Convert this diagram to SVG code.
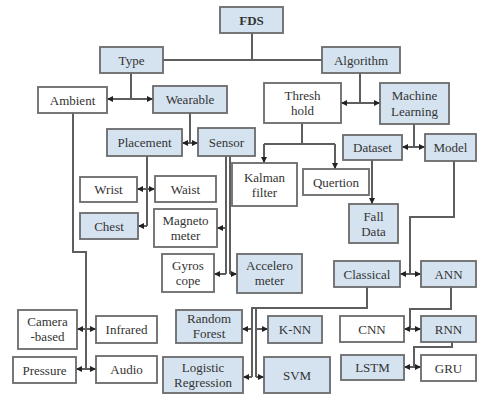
<svg xmlns="http://www.w3.org/2000/svg" width="477" height="395" viewBox="0 0 477 395">
<style>
.b rect{stroke:#6a6a6a;stroke-width:1.8}
.bl rect{fill:#d5e3f0}
.wh rect{fill:#ffffff}
text{font-family:"Liberation Serif","Times New Roman",serif;font-size:13px;fill:#333;text-anchor:middle}
.c path{fill:none;stroke:#5e5e5e;stroke-width:2}
.c .a{marker-end:url(#ah)}
</style>
<defs>
<marker id="ah" viewBox="0 0 6 6" refX="6" refY="3" markerWidth="6" markerHeight="6" markerUnits="userSpaceOnUse" orient="auto"><path d="M0,0 L6,3 L0,6z" fill="#222"/></marker>
</defs>
<rect width="477" height="395" fill="#ffffff"/>
<g class="c" id="connectors">
<path d="M252,33 V60 M163,60 H322"/>
<path d="M131,73 V99"/><path class="a" d="M131,99 H107"/><path class="a" d="M131,99 H153"/>
<path d="M360,73 V103"/><path class="a" d="M360,103 H341"/><path class="a" d="M360,103 H380"/>
<path d="M190,113 V143"/><path class="a" d="M190,143 H182"/><path class="a" d="M190,143 H198"/>
<path d="M414,124 V147"/><path class="a" d="M414,147 H402"/><path class="a" d="M414,147 H425"/>
<path d="M302,123 V144 M264,144 H335"/><path class="a" d="M264,144 V163"/><path class="a" d="M335,144 V169"/>
<path class="a" d="M372,160 V204"/>
<path d="M147,156 V226"/><path class="a" d="M147,189 H137"/><path class="a" d="M147,189 H155"/><path class="a" d="M147,226 H138"/>
<path d="M226,156 V274"/><path class="a" d="M226,228 H217"/><path class="a" d="M226,274 H214"/>
<path d="M230,156 V274"/><path class="a" d="M230,274 H237"/>
<path d="M454,161 V217 H410 V274"/><path class="a" d="M410,274 H400"/><path class="a" d="M410,274 H421"/>
<path d="M367,287 V308 H252 V377 M256,308 V377"/><path class="a" d="M252,329 H242"/><path class="a" d="M256,329 H268"/><path class="a" d="M252,377 H243"/><path class="a" d="M256,377 H264"/>
<path d="M451,287 V309 H410 V329"/><path class="a" d="M410,329 H404"/><path class="a" d="M410,329 H421"/>
<path d="M452,342 V347 H414 V367"/><path class="a" d="M414,367 H404"/><path class="a" d="M414,367 H421"/>
<path d="M73,113 V252 H86 V369"/><path class="a" d="M86,329 H77"/><path class="a" d="M86,329 H96"/><path class="a" d="M86,369 H76"/><path class="a" d="M86,369 H96"/>
</g>
<g id="fds" class="b bl"><rect x="220" y="7" width="63" height="26"/><text x="251.5" y="24.5" font-weight="bold">FDS</text></g>
<g id="type" class="b bl"><rect x="100" y="47" width="63" height="26"/><text x="131.5" y="64.5">Type</text></g>
<g id="algorithm" class="b bl"><rect x="322" y="47" width="78" height="26"/><text x="361" y="64.5">Algorithm</text></g>
<g id="ambient" class="b wh"><rect x="38" y="87" width="69" height="26"/><text x="72.5" y="104.5">Ambient</text></g>
<g id="wearable" class="b bl"><rect x="153" y="86" width="74" height="27"/><text x="190" y="104">Wearable</text></g>
<g id="threshhold" class="b wh"><rect x="264" y="83" width="77" height="40"/><text x="302.5" y="100">Thresh</text><text x="302.5" y="115">hold</text></g>
<g id="ml" class="b bl"><rect x="380" y="83" width="69" height="41"/><text x="414.5" y="100">Machine</text><text x="414.5" y="116">Learning</text></g>
<g id="placement" class="b bl"><rect x="107" y="129" width="75" height="27"/><text x="144.5" y="147">Placement</text></g>
<g id="sensor" class="b bl"><rect x="198" y="128" width="57" height="28"/><text x="226.5" y="146.5">Sensor</text></g>
<g id="dataset" class="b bl"><rect x="343" y="135" width="59" height="25"/><text x="372.5" y="152">Dataset</text></g>
<g id="model" class="b bl"><rect x="425" y="134" width="51" height="27"/><text x="450.5" y="152">Model</text></g>
<g id="kalman" class="b wh"><rect x="232" y="163" width="65" height="43"/><text x="264.5" y="182">Kalman</text><text x="264.5" y="197">filter</text></g>
<g id="quertion" class="b wh"><rect x="303" y="169" width="66" height="26"/><text x="336" y="186.5">Quertion</text></g>
<g id="wrist" class="b wh"><rect x="80" y="177" width="57" height="25"/><text x="108.5" y="194">Wrist</text></g>
<g id="waist" class="b wh"><rect x="155" y="176" width="61" height="26"/><text x="185.5" y="193.5">Waist</text></g>
<g id="falldata" class="b bl"><rect x="349" y="204" width="49" height="39"/><text x="373.5" y="221">Fall</text><text x="373.5" y="236">Data</text></g>
<g id="chest" class="b bl"><rect x="80" y="213" width="58" height="26"/><text x="109" y="230.5">Chest</text></g>
<g id="magnetometer" class="b wh"><rect x="154" y="209" width="63" height="38"/><text x="185.5" y="225">Magneto</text><text x="185.5" y="240">meter</text></g>
<g id="gyroscope" class="b wh"><rect x="162" y="254" width="52" height="38"/><text x="188" y="270">Gyros</text><text x="188" y="285">cope</text></g>
<g id="accelerometer" class="b bl"><rect x="237" y="254" width="65" height="39"/><text x="269.5" y="270">Accelero</text><text x="269.5" y="285">meter</text></g>
<g id="classical" class="b bl"><rect x="334" y="261" width="66" height="26"/><text x="367" y="278.5">Classical</text></g>
<g id="ann" class="b bl"><rect x="421" y="261" width="55" height="26"/><text x="448.5" y="278.5">ANN</text></g>
<g id="camera" class="b wh"><rect x="18" y="310" width="59" height="39"/><text x="47.5" y="326">Camera</text><text x="47.5" y="341">-based</text></g>
<g id="infrared" class="b wh"><rect x="96" y="316" width="61" height="27"/><text x="126.5" y="334">Infrared</text></g>
<g id="randomforest" class="b bl"><rect x="176" y="310" width="66" height="33"/><text x="209" y="323">Random</text><text x="209" y="338">Forest</text></g>
<g id="knn" class="b bl"><rect x="268" y="316" width="54" height="27"/><text x="295" y="334">K-NN</text></g>
<g id="cnn" class="b wh"><rect x="340" y="316" width="64" height="26"/><text x="372" y="333.5">CNN</text></g>
<g id="rnn" class="b bl"><rect x="421" y="316" width="55" height="26"/><text x="448.5" y="333.5">RNN</text></g>
<g id="pressure" class="b wh"><rect x="13" y="357" width="63" height="26"/><text x="44.5" y="374.5">Pressure</text></g>
<g id="audio" class="b wh"><rect x="96" y="356" width="61" height="27"/><text x="126.5" y="374">Audio</text></g>
<g id="logistic" class="b bl"><rect x="163" y="357" width="80" height="36"/><text x="203" y="372">Logistic</text><text x="203" y="387">Regression</text></g>
<g id="svm" class="b bl"><rect x="264" y="357" width="66" height="36"/><text x="297" y="379.5">SVM</text></g>
<g id="lstm" class="b bl"><rect x="341" y="355" width="63" height="25"/><text x="372.5" y="372">LSTM</text></g>
<g id="gru" class="b wh"><rect x="421" y="355" width="55" height="26"/><text x="448.5" y="372.5">GRU</text></g>
</svg>
